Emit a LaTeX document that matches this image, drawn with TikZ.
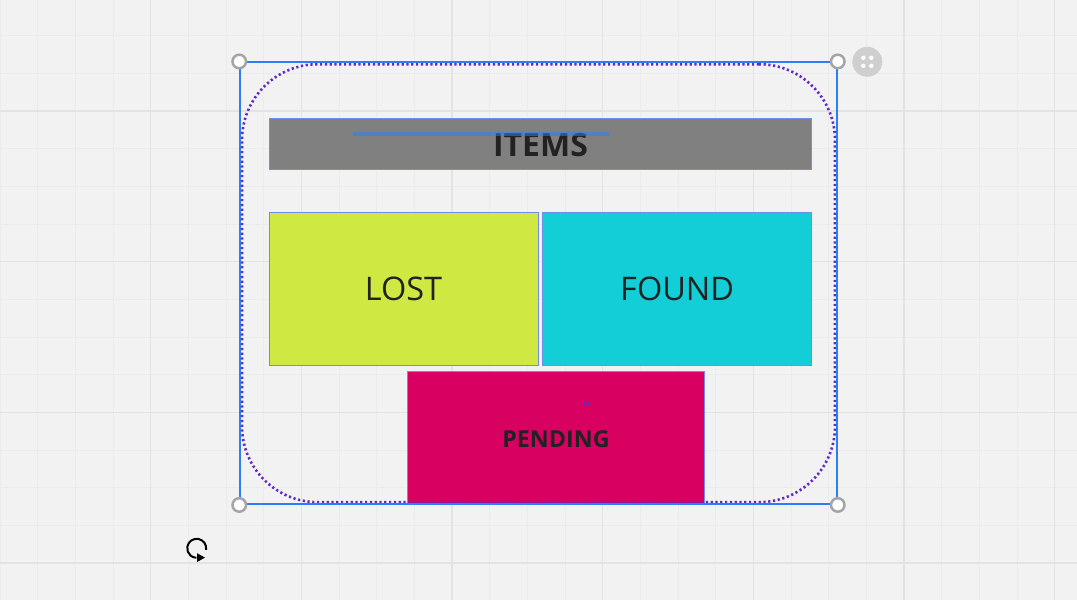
\documentclass[tikz,border=0pt]{standalone}
\usepackage{fontspec}
\setmainfont{Open Sans}
\usepackage{tikz}
\usepackage{xcolor}
\usetikzlibrary{arrows.meta,positioning}
\definecolor{canvasbg}{RGB}{242,242,242}
\definecolor{gridminor}{RGB}{235,235,235}
\definecolor{gridmajor}{RGB}{227,227,227}
\definecolor{selblue}{RGB}{45,125,250}
\definecolor{boxedge}{RGB}{112,142,232}
\definecolor{framepurple}{RGB}{95,42,200}
\definecolor{handlegray}{RGB}{165,165,165}
\definecolor{gripgray}{RGB}{207,207,207}
\definecolor{inkdark}{RGB}{34,34,34}
\definecolor{itemsgray}{RGB}{128,128,128}
\definecolor{lostlime}{RGB}{207,232,66}
\definecolor{foundcyan}{RGB}{19,206,214}
\definecolor{pendingpink}{RGB}{216,0,96}

\begin{document}
\begin{tikzpicture}[x=1pt,y=-1pt,>=Stealth,
    tile/.style={draw=boxedge,line width=1pt,inner sep=0pt},
    plainword/.style={text=inkdark,font=\fontsize{32.5}{38}\selectfont},
    boldword/.style={text=inkdark,font=\bfseries\fontsize{32}{38}\selectfont},
    handle/.style={circle,draw=handlegray,fill=white,line width=2.5pt,
                   minimum size=13.5pt,inner sep=0pt}]
  \fill[canvasbg] (0,0) rectangle (1077,600);
  \useasboundingbox (0,0) rectangle (1077,600);

  % grid
  \foreach \k in {0,...,28}
    \draw[gridminor,line width=1pt] ({37.67*\k},0) -- ({37.67*\k},600);
  \foreach \k in {0,...,16}
    \draw[gridminor,line width=1pt] (0,{-2+37.67*\k}) -- (1077,{-2+37.67*\k});
  \foreach \k in {1,...,7}
    \draw[gridmajor,line width=1.6pt] ({150.67*\k},0) -- ({150.67*\k},600);
  \foreach \k in {0,...,3}
    \draw[gridmajor,line width=1.6pt] (0,{111+150.67*\k}) -- (1077,{111+150.67*\k});

  % title bar
  \node[tile,fill=itemsgray,minimum width=542pt,minimum height=51.5pt] (itemsbar) at (540,144.2) {};
  \node[boldword] (itemstext) at (540.5,144.7) {ITEMS};
  \draw[selblue,opacity=0.55,line width=3.5pt] (353,134) -- (609,134);

  % the three tiles
  \node[tile,fill=lostlime,minimum width=269pt,minimum height=153pt] (lostbox) at (403.5,288.6) {};
  \node[plainword] at (lostbox.center) {LOST};
  \node[tile,fill=foundcyan,minimum width=269.5pt,minimum height=153pt] (foundbox) at (677.2,288.8) {};
  \node[plainword] at (foundbox.center) {FOUND};
  \node[tile,fill=pendingpink,minimum width=297.5pt,minimum height=132.5pt] (pendingbox) at (556,437.9) {};
  \node[boldword,font=\bfseries\fontsize{23.3}{28}\selectfont] at (556,439) {PENDING};
  \node[draw=framepurple,line width=0.8pt,minimum size=4pt,inner sep=0pt] (pivotmark) at (586.3,403) {};

  % dotted frame and selection
  \node[draw=framepurple,line width=2.6pt,dash pattern=on 2.2pt off 2.6pt,rounded corners=76pt,
        minimum width=593pt,minimum height=438pt,inner sep=0pt] (frame) at (538.5,283.2) {};
  \node[draw=selblue,line width=1.5pt,minimum width=597pt,minimum height=442pt,inner sep=0pt]
        (selbox) at (538.5,283.2) {};
  \foreach \c in {north west,north east,south west,south east}
    \node[handle] at (selbox.\c) {};

  % grip button
  \node[circle,fill=gripgray,minimum size=30pt,inner sep=0pt] (grip) at (867.3,61.8) {};
  \foreach \dx/\dy in {-4/-4,4/-4,-4/4,4/4}
    \fill[white] ([shift={(\dx,\dy)}]grip.center) circle (2.2);

  % rotate cursor
  \coordinate (rotcentre) at (196.7,548.3);
  \draw[black,line width=2pt]
    ([shift={(10:9.5)}]rotcentre) arc[start angle=10,end angle=-268,radius=9.5];
  \fill[black] ([shift={(0.5,9.3)}]rotcentre) -- ++(0,-4.3) -- ++(7.8,4.3) -- ++(-7.8,4.3) -- cycle;
\end{tikzpicture}
\end{document}
